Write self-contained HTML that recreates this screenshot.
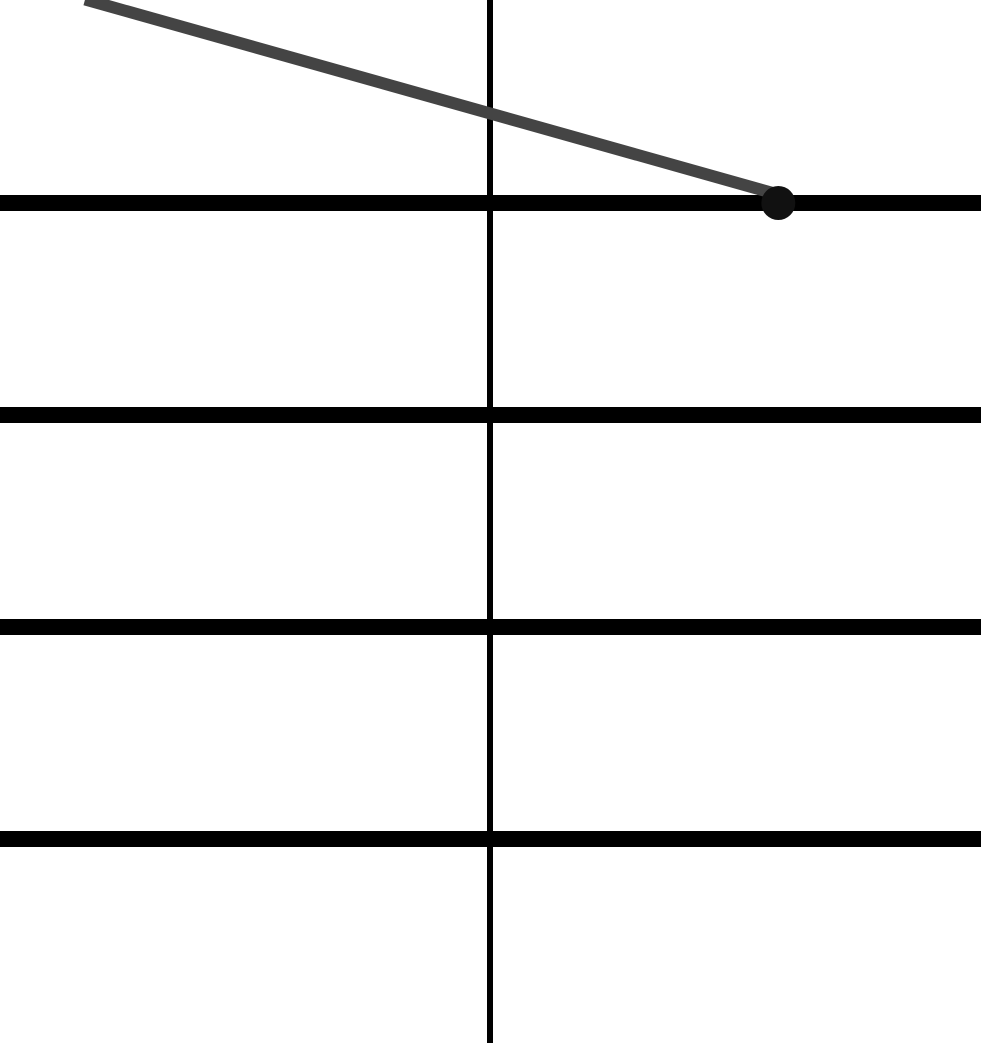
<!DOCTYPE html>
<html><head><meta charset="utf-8"><style>
html,body{margin:0;padding:0;background:#fff;}
svg{display:block;}
</style></head><body>
<svg id="chart" width="981" height="1043" viewBox="0 0 981 1043" xmlns="http://www.w3.org/2000/svg">
<g id="grid"></g>
<g id="series"></g>
</svg>
<script>
const xValues = [-1.91, 1.36];
const yValues = [0.96, 0.04];
const gridRows = [0, -1, -2, -3];
const gridCols = [0];

const unit = 212;
function sx(v){ return 490 + v*unit; }
function sy(v){ return 203 - v*unit; }

const NS = 'http://www.w3.org/2000/svg';
const grid = document.getElementById('grid');
const series = document.getElementById('series');

gridRows.forEach(function(r){
  const l = document.createElementNS(NS,'line');
  
  
  l.setAttribute('x1', 0); l.setAttribute('x2', 981);
  l.setAttribute('y1', sy(r)); l.setAttribute('y2', sy(r));
  l.setAttribute('stroke', '#000'); l.setAttribute('stroke-width', 16);
  grid.appendChild(l);
});
gridCols.forEach(function(c){
  const l = document.createElementNS(NS,'line');
  
  
  l.setAttribute('x1', sx(c)); l.setAttribute('x2', sx(c));
  l.setAttribute('y1', 0); l.setAttribute('y2', 1043);
  l.setAttribute('stroke', '#000'); l.setAttribute('stroke-width', 6);
  grid.appendChild(l);
});

let d = '';
xValues.forEach(function(x,i){ d += (i? 'L':'M') + sx(x) + ' ' + sy(yValues[i]) + ' '; });
const p = document.createElementNS(NS,'path');


p.setAttribute('d', d);
p.setAttribute('stroke', '#444'); p.setAttribute('stroke-width', 12);
p.setAttribute('fill', 'none');
series.appendChild(p);

const last = xValues.length-1;
const c = document.createElementNS(NS,'circle');


c.setAttribute('cx', sx(xValues[last])); c.setAttribute('cy', sy(0));
c.setAttribute('r', 17); c.setAttribute('fill', '#111');
series.appendChild(c);
</script>
</body></html>
